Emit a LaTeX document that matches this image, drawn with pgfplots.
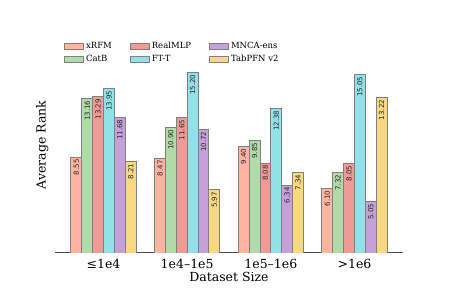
\documentclass[border=0pt]{standalone}
\usepackage{pgfplots}
\pgfplotsset{compat=1.18}
\usepackage{fontspec}
\setmainfont{DejaVu Serif}
\newfontfamily\barfont{DejaVu Sans}
\definecolor{cxrfm}{RGB}{255,180,160}
\definecolor{ccatb}{RGB}{176,218,168}
\definecolor{creal}{RGB}{240,154,150}
\definecolor{cftt}{RGB}{146,224,232}
\definecolor{cmnca}{RGB}{198,160,216}
\definecolor{ctab}{RGB}{248,216,128}
\pgfplotsset{
  mybar/.style={fill=#1, draw=black!50, line width=0.9pt,
    legend image code/.code={\draw[##1] (0pt,-3pt) rectangle (19pt,3pt);}},
}
\begin{document}
\begin{tikzpicture}
\begin{axis}[
  scale only axis, width=348pt, height=216.2pt,
  xmin=-0.58, xmax=3.58, ymin=1, ymax=18,
  ybar=0pt, bar width=0.13,
  axis x line*=bottom, axis y line*=left,
  x axis line style={-, draw=black!70, line width=1pt},
  y axis line style={draw=none},
  xtick={0,1,2,3},
  xticklabels={≤1e4, 1e4–1e5, 1e5–1e6, >1e6},
  major tick length=0pt,
  ytick=\empty,
  xticklabel style={font=\fontsize{12.5}{15}\selectfont, yshift=-3pt},
  xlabel={Dataset Size},
  ylabel={Average Rank},
  xlabel style={font=\fontsize{12.5}{15}\selectfont, at={(axis description cs:0.5,0)}, anchor=north, yshift=-15.8pt},
  ylabel style={font=\fontsize{12.5}{15}\selectfont, at={(axis description cs:-0.009,0.5)}, anchor=south},
  nodes near coords,
  point meta=y,
  every node near coord/.append style={rotate=90, anchor=east, font=\barfont\fontsize{7}{8}\selectfont, text=black!85, inner sep=2pt,
    /pgf/number format/fixed, /pgf/number format/fixed zerofill, /pgf/number format/precision=2, /pgf/number format/assume math mode=true},
  legend columns=3,
  legend style={draw=none, fill=none, inner sep=0pt, row sep=1pt,
    font=\fontsize{8.5}{10}\selectfont,
    nodes={inner sep=2pt, text height=6.5pt, text depth=1.5pt},
    /tikz/every even column/.append style={column sep=16pt},
    anchor=north west, at={(axis description cs:0.026,0.985)}},
  legend cell align=left,
]
\addplot[mybar=cxrfm, bar shift=-0.325] coordinates {(0,8.55) (1,8.47) (2,9.40) (3,6.10)};
\addlegendentry{xRFM}
\addplot[mybar=creal, bar shift=-0.065] coordinates {(0,13.29) (1,11.65) (2,8.08) (3,8.05)};
\addlegendentry{RealMLP}
\addplot[mybar=cmnca, bar shift=0.195] coordinates {(0,11.68) (1,10.72) (2,6.34) (3,5.05)};
\addlegendentry{MNCA-ens}
\addplot[mybar=ccatb, bar shift=-0.195] coordinates {(0,13.16) (1,10.90) (2,9.85) (3,7.32)};
\addlegendentry{CatB}
\addplot[mybar=cftt, bar shift=0.065] coordinates {(0,13.95) (1,15.20) (2,12.38) (3,15.05)};
\addlegendentry{FT-T}
\addplot[mybar=ctab, bar shift=0.325] coordinates {(0,8.21) (1,5.97) (2,7.34) (3,13.22)};
\addlegendentry{TabPFN v2}
\end{axis}
\path (current axis.south west) ++(-55pt,-46pt) rectangle ++(449pt,299pt);
\end{tikzpicture}
\end{document}
